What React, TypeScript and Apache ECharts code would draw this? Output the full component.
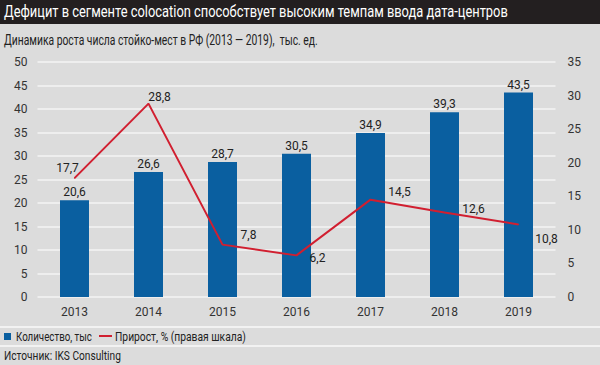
import React, { useEffect, useRef } from "react";
import * as echarts from "echarts";

const years = ["2013", "2014", "2015", "2016", "2017", "2018", "2019"];
const racks = [20.6, 26.6, 28.7, 30.5, 34.9, 39.3, 43.5];
const growth = [17.7, 28.8, 7.8, 6.2, 14.5, 12.6, 10.8];
const leftTicks = { min: 0, max: 50, interval: 5 };
const rightTicks = { min: 0, max: 35, interval: 5 };
const titleText = "Дефицит в сегменте colocation способствует высоким темпам ввода дата-центров";
const subtitleText = "Динамика роста числа стойко-мест в РФ (2013 — 2019),  тыс. ед.";
const legendBar = "Количество, тыс";
const legendLine = "Прирост, % (правая шкала)";
const sourceText = "Источник: IKS Consulting";

// label centre offsets from each line point [dx, dy]
const lineLabelOffsets: [number, number][] = [
  [-7, -10],
  [11, -7],
  [26, -10],
  [21, 3],
  [29, -8],
  [29, -3],
  [28, 15],
];

const FONT = "Roboto, 'DejaVu Sans', sans-serif";
const fmt = (v: number) => String(v).replace(".", ",");

function fit(text: string, size: number, target: number) {
  const ctx = document.createElement("canvas").getContext("2d");
  if (!ctx) return 1;
  ctx.font = `${size}px Roboto`;
  const w = ctx.measureText(text).width;
  return w > 0 ? target / w : 1;
}

export default function App() {
  const ref = useRef<HTMLDivElement>(null);
  useEffect(() => {
    if (!ref.current) return;
    const chart = echarts.init(ref.current, undefined, { renderer: "svg" });
    const txt = (text: string, x: number, y: number, size: number, target: number, fill: string) => ({
      type: "text",
      x,
      y,
      scaleX: fit(text, size, target),
      style: { text, fill, fontSize: size, fontFamily: "Roboto", verticalAlign: "middle" },
    });
    chart.setOption({
      animation: false,
      backgroundColor: "#dcdcdc",
      textStyle: { fontFamily: FONT },
      grid: { left: 37.5, right: 44.5, top: 62, bottom: 68, containLabel: false },
      xAxis: {
        type: "category",
        data: years,
        axisLine: { show: false },
        axisTick: { show: false },
        axisLabel: { color: "#333", fontSize: 12, margin: 9, fontFamily: FONT },
      },
      yAxis: [
        {
          type: "value",
          ...leftTicks,
          axisLine: { show: false },
          axisTick: { show: false },
          splitLine: { lineStyle: { color: "#f4f4f4", width: 1.5 } },
          axisLabel: { color: "#333", fontSize: 12, margin: 10, fontFamily: FONT },
        },
        {
          type: "value",
          ...rightTicks,
          axisLine: { show: false },
          axisTick: { show: false },
          splitLine: { show: false },
          axisLabel: { color: "#333", fontSize: 12, margin: 12, fontFamily: FONT },
        },
      ],
      series: [
        {
          type: "bar",
          name: legendBar,
          data: racks,
          barWidth: 29,
          itemStyle: { color: "#0a5fa0" },
          label: {
            show: true,
            position: "top",
            distance: 2,
            color: "#222",
            fontSize: 12,
            fontFamily: FONT,
            formatter: (p: any) => fmt(p.value),
          },
        },
        {
          type: "line",
          name: legendLine,
          yAxisIndex: 1,
          data: growth.map((v, i) => ({
            value: v,
            label: { offset: lineLabelOffsets[i] },
          })),
          symbol: "circle",
          symbolSize: 1,
          showSymbol: true,
          itemStyle: { color: "#d11f30" },
          lineStyle: { color: "#d11f30", width: 2 },
          label: {
            show: true,
            position: "inside",
            color: "#222",
            fontSize: 12,
            fontFamily: FONT,
            formatter: (p: any) => fmt(p.value),
          },
          z: 5,
        },
      ],
      graphic: [
        { type: "rect", shape: { x: 0, y: 0, width: 600, height: 24 }, style: { fill: "#231f20" } },
        txt(titleText, 4, 12.5, 16, 504, "#ffffff"),
        txt(subtitleText, 4, 40, 14, 314, "#222"),
        { type: "rect", shape: { x: 0, y: 326, width: 600, height: 2 }, style: { fill: "#f2f2f2" } },
        { type: "rect", shape: { x: 0, y: 345, width: 600, height: 2 }, style: { fill: "#f2f2f2" } },
        { type: "rect", shape: { x: 4, y: 333, width: 7, height: 7 }, style: { fill: "#0a5fa0" } },
        txt(legendBar, 16, 336.5, 13, 76, "#222"),
        { type: "rect", shape: { x: 99, y: 335, width: 13, height: 2 }, style: { fill: "#d11f30" } },
        txt(legendLine, 115, 336.5, 13, 131, "#222"),
        txt(sourceText, 4, 356, 13, 117, "#222"),
      ],
    });
    return () => chart.dispose();
  }, []);
  return <div ref={ref} style={{ position: "fixed", left: 0, top: 0, width: 600, height: 365 }} />;
}
